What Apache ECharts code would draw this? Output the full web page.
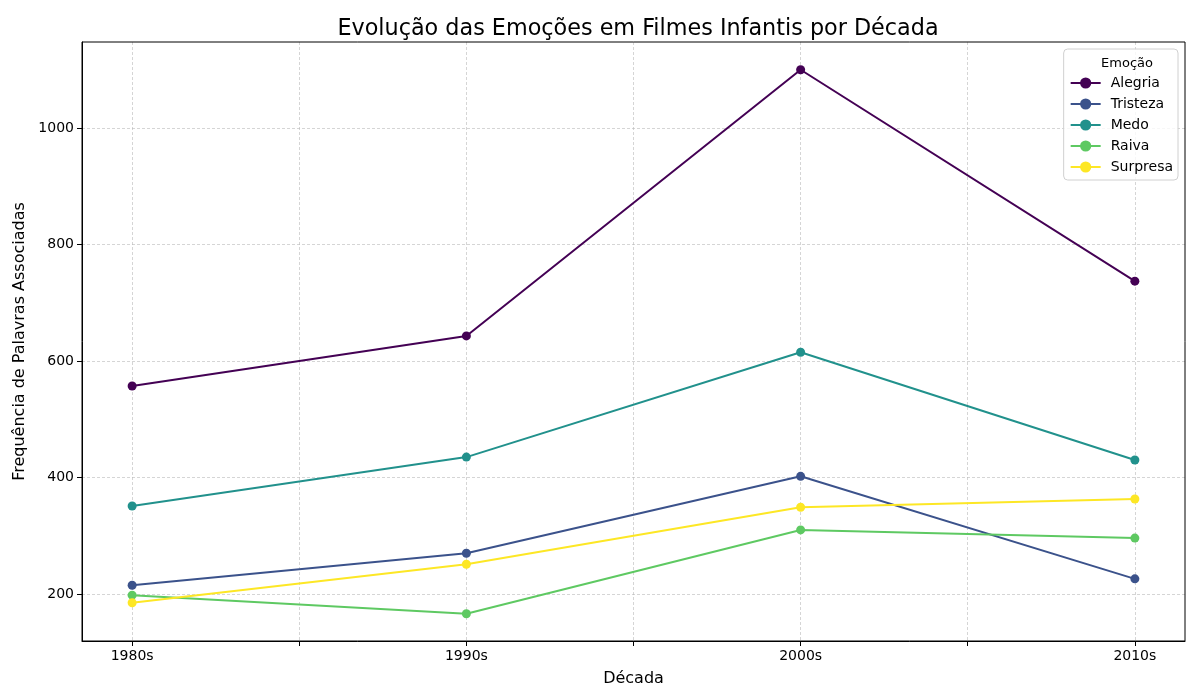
<!DOCTYPE html>
<html>
<head>
<meta charset="utf-8">
<script src="https://cdn.jsdelivr.net/npm/echarts@6/dist/echarts.min.js"></script>
<style>
  html, body { margin: 0; padding: 0; background: #fff; }
  #chart { width: 1200px; height: 700px; }
</style>
</head>
<body>
<div id="chart"></div>
<script>
// decadas e valores
const decadas = ['1980s', '1990s', '2000s', '2010s'];
const emocoes = ['Alegria', 'Tristeza', 'Medo', 'Raiva', 'Surpresa'];
const cores = ['#440154', '#3b528b', '#21918c', '#5ec962', '#fde725'];

const alegria = [557, 643, 1100, 737];
const tristeza = [215, 270, 402, 226];
const medo = [351, 435, 615, 430];
const raiva = [198, 166, 310, 296];
const surpresa = [185, 251, 349, 363];

const valores = [alegria, tristeza, medo, raiva, surpresa];
const yTicks = [200, 400, 600, 800, 1000];
const xTicks = [0, 0.5, 1, 1.5, 2, 2.5, 3];

const chart = echarts.init(document.getElementById('chart'));

const font = 'DejaVu Sans';

const option = {
    animation: false,
    textStyle: { fontFamily: font },
    title: [
        {
            text: 'Evolução das Emoções em Filmes Infantis por Década',
            left: 633,
            textAlign: 'center',
            top: 13,
            textStyle: { fontFamily: font, fontSize: 22.3, fontWeight: 'normal', color: '#000' }
        },
        {
            text: 'Emoção',
            left: 1122,
            top: 52,
            textAlign: 'center',
            textStyle: { fontFamily: font, fontSize: 13, fontWeight: 'normal', color: '#000' },
            z: 10
        }
    ],
    legend: {
        orient: 'vertical',
        right: 22,
        top: 49,
        padding: [27, 5, 6, 6],
        itemGap: 7,
        itemWidth: 30,
        itemHeight: 14,
        backgroundColor: 'rgba(255,255,255,0.8)',
        borderColor: '#d0d0d0',
        borderWidth: 1,
        borderRadius: 4,
        textStyle: { fontFamily: font, fontSize: 14, color: '#000', padding: [0, 0, 0, 5] },
        data: emocoes
    },
    grid: { left: 82, right: 15, top: 42, bottom: 59, containLabel: false, show: false },
    xAxis: {
        type: 'value',
        min: -0.15,
        max: 3.15,
        name: 'Década',
        nameLocation: 'middle',
        nameGap: 30,
        nameTextStyle: { fontFamily: font, fontSize: 16, color: '#000' },
        axisLine: { onZero: false, lineStyle: { color: '#000', width: 1 } },
        axisTick: { show: true, length: 5, customValues: xTicks, lineStyle: { color: '#000' } },
        axisLabel: {
            customValues: [0, 1, 2, 3],
            formatter: v => decadas[Math.round(v)],
            color: '#000', fontSize: 14, margin: 8
        },
        splitLine: { show: true, lineStyle: { color: '#b8b8b8', type: [3, 2], width: 0.6 } }
    },
    yAxis: {
        type: 'value',
        min: 119.3,
        max: 1147.6,
        name: 'Frequência de Palavras Associadas',
        nameLocation: 'middle',
        nameGap: 46,
        nameTextStyle: { fontFamily: font, fontSize: 16, color: '#000' },
        axisLine: { show: true, onZero: false, lineStyle: { color: '#000', width: 1 } },
        axisTick: { show: true, length: 5, customValues: yTicks, lineStyle: { color: '#000' } },
        axisLabel: { customValues: yTicks, formatter: v => String(v), color: '#000', fontSize: 14, margin: 8 },
        splitLine: { show: true, lineStyle: { color: '#b8b8b8', type: [3, 2], width: 0.6 } }
    },
    series: emocoes.map((nome, i) => ({
        name: nome,
        type: 'line',
        data: valores[i].map((v, j) => [j, v]),
        symbol: 'circle',
        symbolSize: 9,
        lineStyle: { width: 2, color: cores[i] },
        itemStyle: { color: cores[i] },
        z: 3 + i
    }))
};

chart.setOption(option);

// moldura superior e direita do grafico (estilo matplotlib)
chart.setOption({
    graphic: [{
        type: 'rect',
        shape: { x: 82, y: 42, width: 1103, height: 599 },
        style: { fill: 'none', stroke: '#000', lineWidth: 1 },
        silent: true,
        z: 0
    }]
});
</script>
</body>
</html>
